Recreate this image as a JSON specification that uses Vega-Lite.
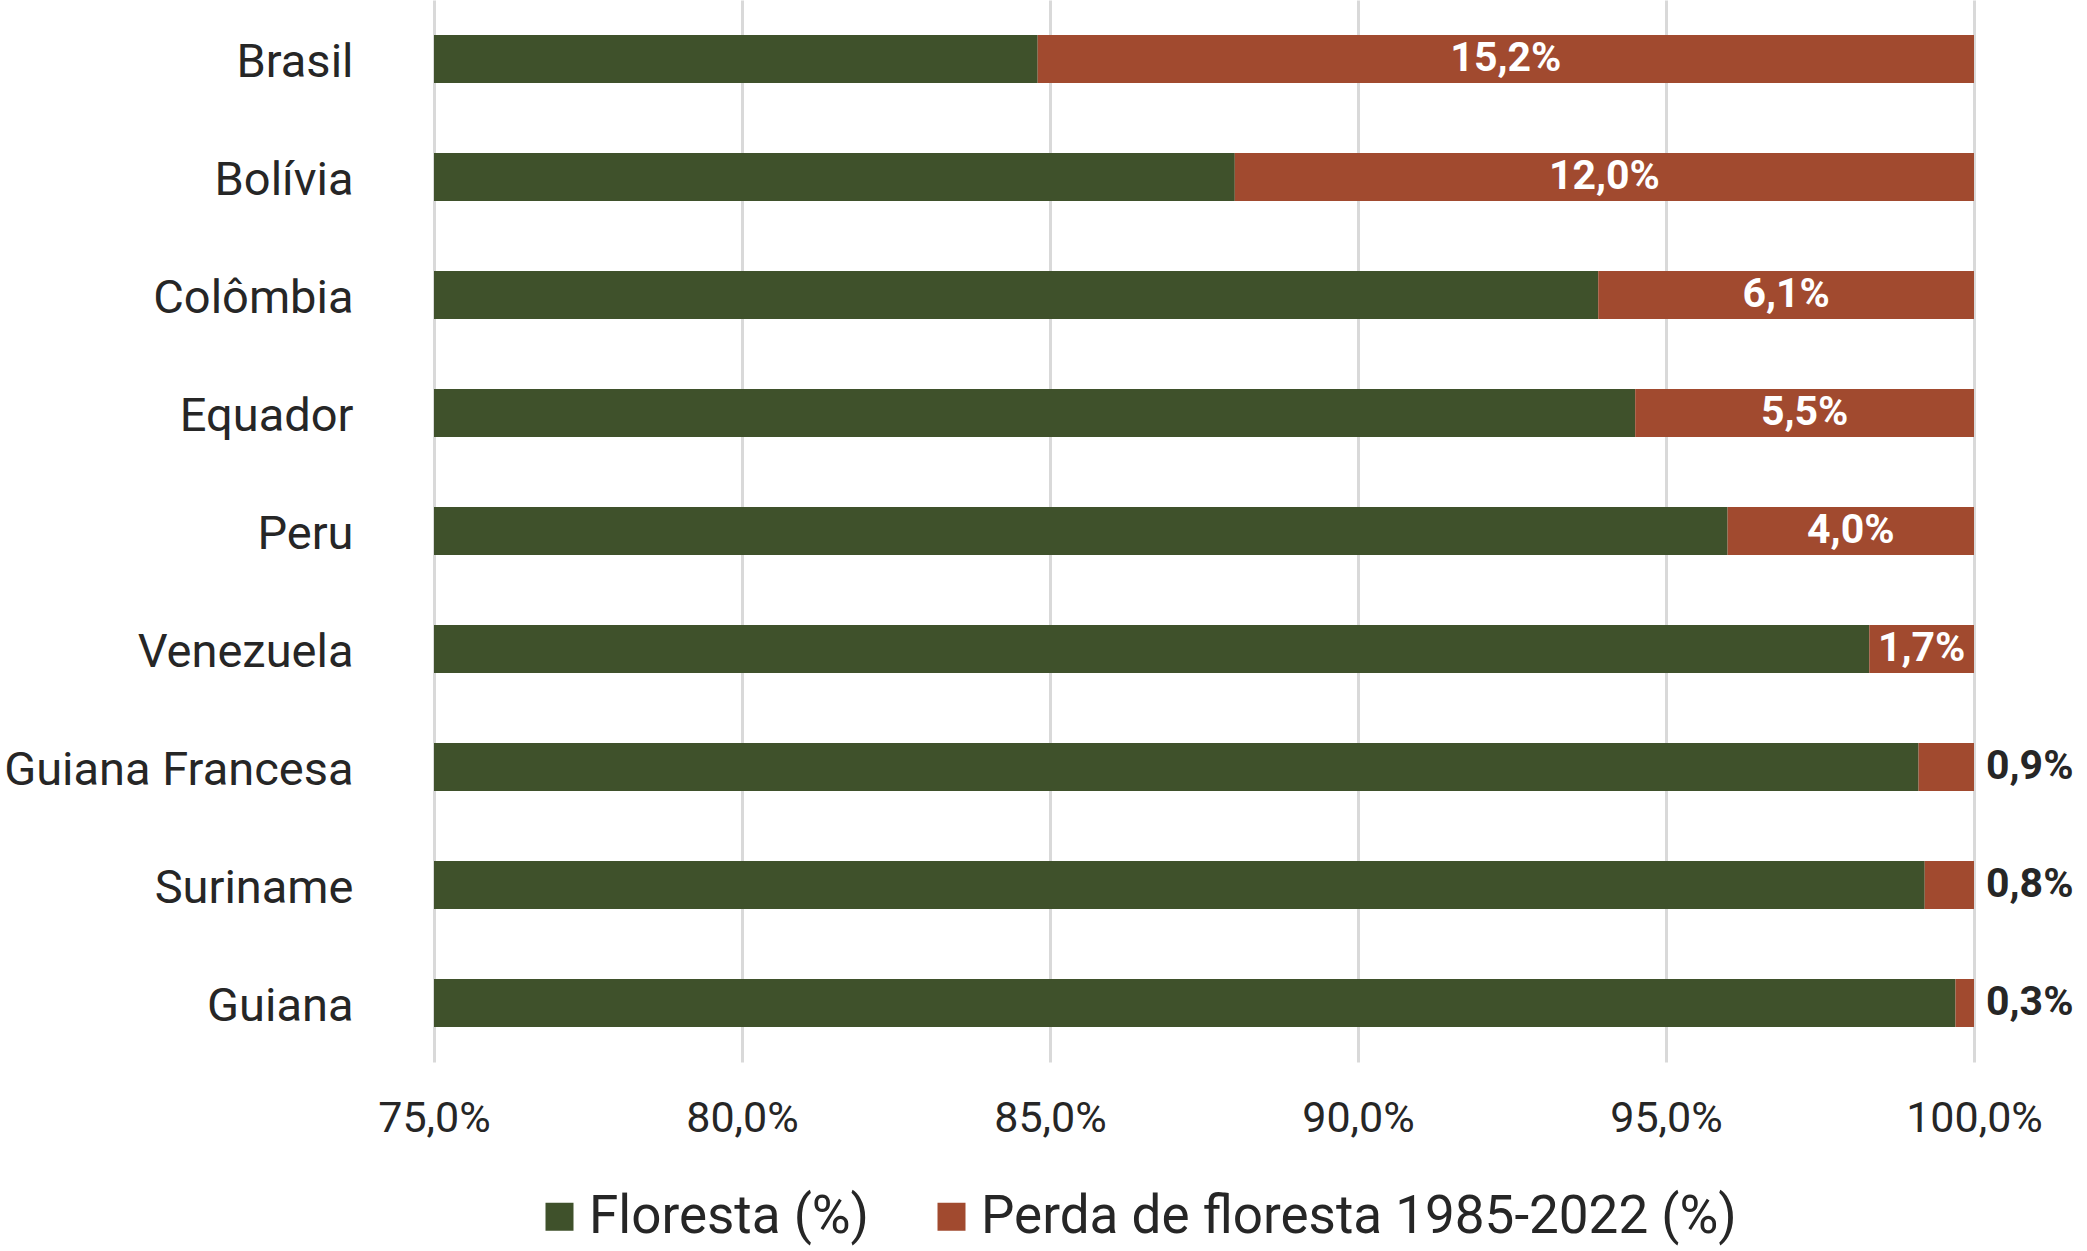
{
  "$schema": "https://vega.github.io/schema/vega-lite/v6.json",
  "width": 1540,
  "height": 1062,
  "autosize": {"type": "none"},
  "padding": {"left": 434, "top": 0, "right": 113, "bottom": 189},
  "background": "white",
  "data": {
    "values": [
      {"pais": "Brasil", "floresta": 0.848, "perda": 0.152},
      {"pais": "Bolívia", "floresta": 0.880, "perda": 0.120},
      {"pais": "Colômbia", "floresta": 0.939, "perda": 0.061},
      {"pais": "Equador", "floresta": 0.945, "perda": 0.055},
      {"pais": "Peru", "floresta": 0.960, "perda": 0.040},
      {"pais": "Venezuela", "floresta": 0.983, "perda": 0.017},
      {"pais": "Guiana Francesa", "floresta": 0.991, "perda": 0.009},
      {"pais": "Suriname", "floresta": 0.992, "perda": 0.008},
      {"pais": "Guiana", "floresta": 0.997, "perda": 0.003}
    ]
  },
  "encoding": {
    "y": {
      "field": "pais",
      "type": "nominal",
      "sort": null,
      "title": null,
      "scale": {"paddingInner": 0.593, "paddingOuter": 0.2965},
      "axis": {
        "ticks": false,
        "domain": false,
        "labelFontSize": 47,
        "labelPadding": 81,
        "labelOffset": 4,
        "labelLimit": 1000,
        "labelColor": "#262626"
      }
    }
  },
  "layer": [
    {
      "transform": [
        {"fold": ["floresta", "perda"], "as": ["serie", "valor"]}
      ],
      "mark": {"type": "bar", "clip": true},
      "encoding": {
        "x": {
          "field": "valor",
          "type": "quantitative",
          "stack": "zero",
          "title": null,
          "scale": {"domain": [0.75, 1], "zero": false, "nice": false},
          "axis": {
            "format": ".1%",
            "values": [0.75, 0.8, 0.85, 0.9, 0.95, 1.0],
            "ticks": false,
            "domain": false,
            "grid": true,
            "gridColor": "#d9d9d9",
            "gridWidth": 3,
            "labelFontSize": 43,
            "labelPadding": 35,
            "labelColor": "#262626",
            "labelFlush": false
          }
        },
        "color": {
          "field": "serie",
          "type": "nominal",
          "title": null,
          "scale": {
            "domain": ["floresta", "perda"],
            "range": ["#3f512b", "#a14a2f"]
          },
          "legend": {
            "orient": "none",
            "direction": "horizontal",
            "legendX": 99,
            "legendY": 1190,
            "symbolType": "square",
            "symbolSize": 784,
            "symbolStrokeWidth": 0,
            "labelFontSize": 53,
            "labelColor": "#262626",
            "labelOffset": 3,
            "columnPadding": 55,
            "labelLimit": 1000,
            "labelExpr": "datum.label == 'floresta' ? 'Floresta (%)' : 'Perda de floresta 1985-2022 (%)'"
          }
        },
        "order": {"field": "serie"}
      }
    },
    {
      "transform": [
        {"filter": "datum.perda >= 0.01"},
        {"calculate": "(datum.floresta + 1) / 2", "as": "meio"}
      ],
      "mark": {
        "type": "text",
        "align": "center",
        "baseline": "middle",
        "fontSize": 41,
        "fontWeight": "bold",
        "color": "white"
      },
      "encoding": {
        "x": {"field": "meio", "type": "quantitative"},
        "text": {"field": "perda", "type": "quantitative", "format": ".1%"}
      }
    },
    {
      "transform": [{"filter": "datum.perda < 0.01"}],
      "mark": {
        "type": "text",
        "align": "left",
        "baseline": "middle",
        "dx": 12,
        "fontSize": 41,
        "fontWeight": "bold",
        "color": "#262626"
      },
      "encoding": {
        "x": {"datum": 1, "type": "quantitative"},
        "text": {"field": "perda", "type": "quantitative", "format": ".1%"}
      }
    }
  ],
  "config": {
    "font": "Roboto",
    "view": {"stroke": null},
    "locale": {
      "number": {
        "decimal": ",",
        "thousands": ".",
        "grouping": [3],
        "currency": ["R$", ""]
      }
    }
  }
}
